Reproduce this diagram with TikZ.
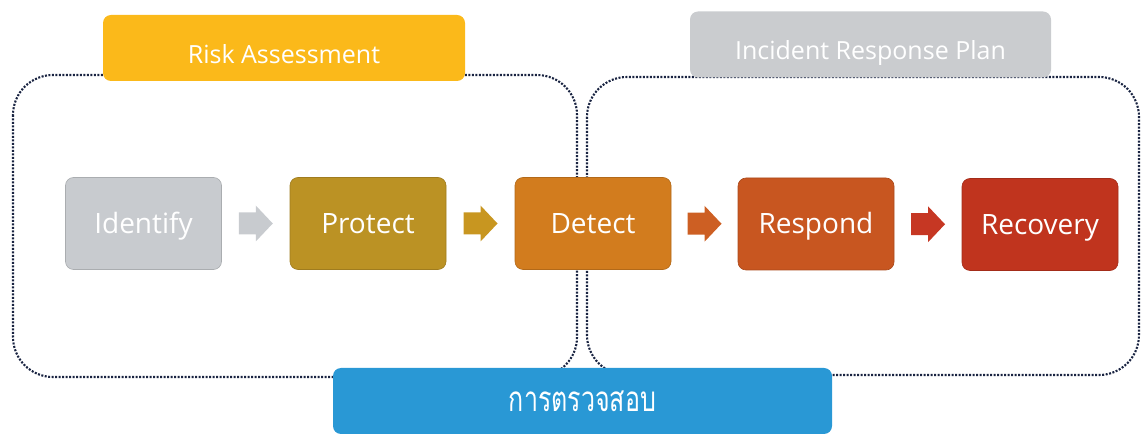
\documentclass[tikz,border=0pt]{standalone}
\usepackage{fontspec}
\setmainfont{Open Sans}
\newfontfamily\thaifont[Script=Thai]{Loma}
\usetikzlibrary{calc}
\definecolor{dotc}{RGB}{25,35,65}
\definecolor{riskc}{RGB}{251,185,26}
\definecolor{irpc}{RGB}{202,204,207}
\definecolor{idc}{RGB}{200,203,207}
\definecolor{prc}{RGB}{187,146,36}
\definecolor{dec}{RGB}{210,124,30}
\definecolor{rec}{RGB}{200,86,32}
\definecolor{rvc}{RGB}{192,52,30}
\definecolor{thc}{RGB}{41,152,213}
\definecolor{ar1}{RGB}{200,203,207}
\definecolor{ar2}{RGB}{200,150,32}
\definecolor{ar3}{RGB}{205,95,35}
\definecolor{ar4}{RGB}{198,55,35}
\newcommand\blockarr[3]{%
  \path (#1.east) -- (#2.west) coordinate[pos=.5] (#1-#2);
  \fill[#3] ($(#1-#2)+(-17,-11)$) -- ++(17,0) -- ++(0,-7) -- ++(17,18)
     -- ++(-17,18) -- ++(0,-7) -- ++(-17,0) -- cycle;}
\begin{document}
\begin{tikzpicture}[x=1pt,y=-1pt,
  frame/.style={draw=dotc, line width=2.1pt, dash pattern=on 2pt off 1.5pt, rounded corners=40pt},
  stepbox/.style={rectangle, rounded corners=8pt, minimum width=156pt, minimum height=92pt,
     inner sep=0pt, text=white, font=\fontsize{28}{30}\selectfont, text height=20pt, text depth=0pt,
     fill=#1, draw=#1!85!black, line width=0.6pt},
  headbox/.style={rectangle, rounded corners=8pt, minimum height=66pt, inner sep=0pt,
     text=white, font=\fontsize{25}{28}\selectfont, text height=31pt, text depth=0pt, fill=#1}]
\useasboundingbox (0,0) rectangle (1141,435);
% dotted frames
\draw[frame] (13,75) rectangle (577,377);
\draw[frame] (587,77) rectangle (1139,375);
% header boxes
\node[headbox=riskc, minimum width=362pt] (risk) at (284,48) {Risk Assessment};
\node[headbox=irpc, minimum width=361pt] (irp) at (870.5,44.5) {Incident Response Plan};
% steps
\node[stepbox=idc] (id) at (143.5,223.5) {Identify};
\node[stepbox=prc] (pr) at (368,223.5) {Protect};
\node[stepbox=dec] (de) at (593,223.5) {Detect};
\node[stepbox=rec] (rs) at (816,224) {Respond};
\node[stepbox=rvc] (rv) at (1040,224.5) {Recovery};
\blockarr{id}{pr}{ar1}
\blockarr{pr}{de}{ar2}
\blockarr{de}{rs}{ar3}
\blockarr{rs}{rv}{ar4}
% audit box
\node[rectangle, rounded corners=8pt, minimum width=499pt, minimum height=66pt, inner sep=0pt,
  fill=thc, text=white, font=\thaifont\fontsize{25}{30}\selectfont] (au) at (582.5,401)
  {\raisebox{-3pt}{\scalebox{1}[1.4]{การตรวจสอบ}}};
\end{tikzpicture}
\end{document}
